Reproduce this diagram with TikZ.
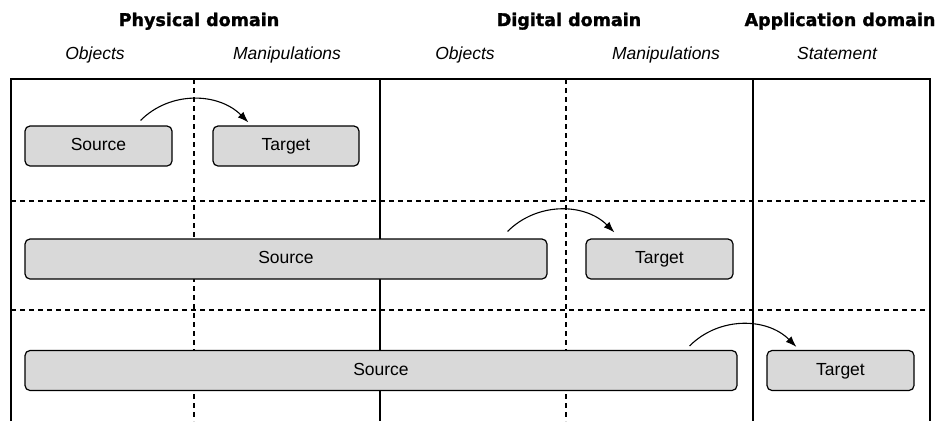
\documentclass[tikz,border=0pt]{standalone}
\usepackage{fontspec}
\setmainfont{Liberation Sans}
\newfontfamily\hdrfont{DejaVu Sans}[BoldFeatures={FakeBold=1.5}]
\usetikzlibrary{arrows.meta}
\definecolor{boxgray}{RGB}{217,217,217}
\begin{document}
\begin{tikzpicture}[x=1pt,y=-1pt,
 frameline/.style={line width=1.8pt},
 gridline/.style={line width=1.1pt, dash pattern=on 5pt off 4pt},
 box/.style={draw, line width=1.2pt, fill=boxgray, rounded corners=5pt, inner sep=0pt, minimum height=40pt, text height=12.5pt, text depth=3.5pt, font=\fontsize{17.5}{20}\selectfont},
 hdr/.style={font=\hdrfont\bfseries\fontsize{17.5}{20}\selectfont, anchor=base, inner sep=0pt},
 sub/.style={font=\itshape\fontsize{17.5}{20}\selectfont, anchor=base, inner sep=0pt},
 arr/.style={line width=1.1pt, -{Latex[length=11pt,width=8pt]}, out=45, in=135}
]
\useasboundingbox (0,0) rectangle (937,421);

% headers
\node[hdr] (h1) at (199,26) {Physical domain};
\node[hdr] (h2) at (569,26) {Digital domain};
\node[hdr] (h3) at (840,26) {Application domain};
\node[sub] (s1) at (95,59) {Objects};
\node[sub] (s2) at (287,59) {Manipulations};
\node[sub] (s3) at (465,59) {Objects};
\node[sub] (s4) at (666,59) {Manipulations};
\node[sub] (s5) at (837,59) {Statement};

% grid
\draw[gridline] (194,79) -- (194,421);
\draw[gridline] (566,79) -- (566,421);
\draw[gridline] (11,201) -- (930,201);
\draw[gridline] (11,310) -- (930,310);

% frame
\draw[frameline] (11,421) -- (11,79) -- (930,79) -- (930,421);
\draw[frameline] (380,79) -- (380,421);
\draw[frameline] (753,79) -- (753,421);

% boxes
\node[box, minimum width=147pt] (src1) at (98.5,146) {Source};
\node[box, minimum width=146pt] (tgt1) at (286,146) {Target};
\node[box, minimum width=522pt] (src2) at (286,259) {Source};
\node[box, minimum width=147pt] (tgt2) at (659.5,259) {Target};
\node[box, minimum width=712pt] (src3) at (381,370.5) {Source};
\node[box, minimum width=147pt] (tgt3) at (840.5,370.5) {Target};

% arrows
\draw[arr] ([xshift=-32pt,yshift=5pt]src1.north east) to ([xshift=36pt,yshift=3pt]tgt1.north west);
\draw[arr] ([xshift=-40pt,yshift=7pt]src2.north east) to ([xshift=29pt,yshift=6pt]tgt2.north west);
\draw[arr] ([xshift=-48pt,yshift=4pt]src3.north east) to ([xshift=30pt,yshift=3pt]tgt3.north west);
\end{tikzpicture}
\end{document}
